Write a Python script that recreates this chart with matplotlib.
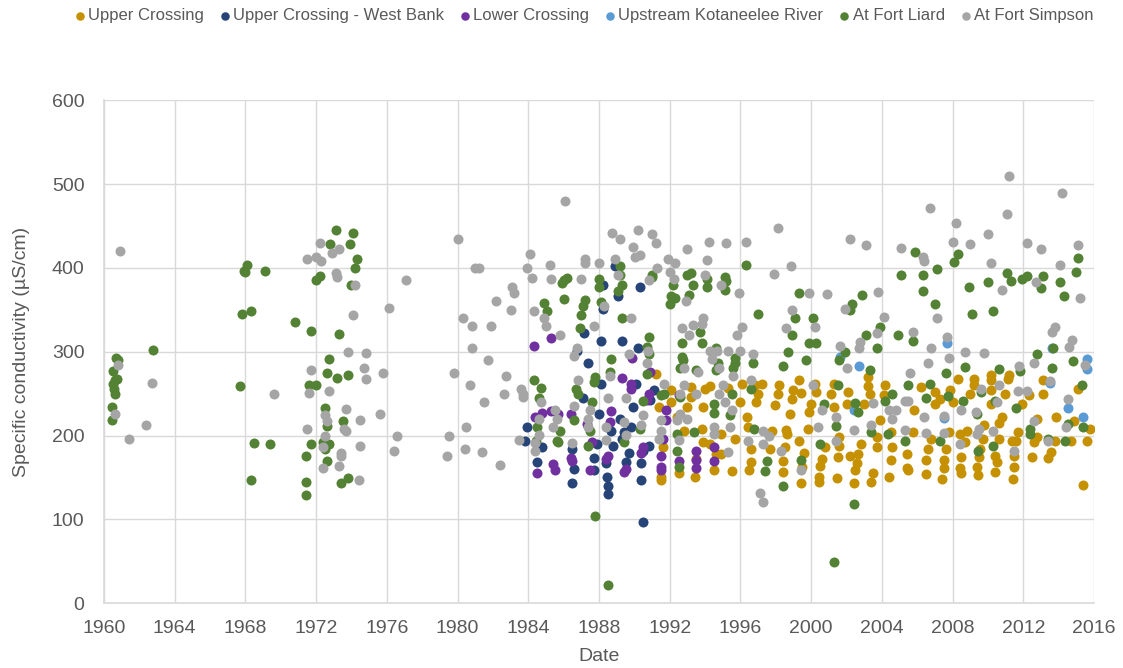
import matplotlib
matplotlib.use("Agg")
import matplotlib.pyplot as plt

# --- data: (decimal year, specific conductivity uS/cm) ----

upper_crossing = [
    (1991.2, 273), (1991.4, 234), (1991.6, 186), (1991.5, 151), (1991.5, 147),
    (1992.05, 240), (1992.1, 254), (1992.4, 222), (1992.8, 206), (1992.5, 155),
    (1993.2, 258), (1993.2, 246), (1993.0, 234), (1993.8, 208), (1993.9, 192),
    (1993.5, 172), (1993.45, 151), (1994.0, 256), (1993.9, 234), (1994.3, 259),
    (1994.3, 190), (1994.5, 159), (1994.9, 202), (1994.9, 178), (1994.6, 178),
    (1995.3, 257), (1995.7, 196), (1995.5, 158), (1996.0, 240), (1996.1, 262),
    (1996.35, 222), (1996.4, 210), (1996.6, 184), (1996.6, 169), (1996.5, 159),
    (1996.9, 240), (1997.0, 250), (1996.8, 260),
    (1997.2, 262), (1997.8, 206), (1997.7, 184), (1998.2, 260), (1998.1, 250),
    (1997.95, 236), (1998.8, 226), (1998.6, 207), (1998.65, 202), (1998.5, 186),
    (1998.4, 170), (1998.4, 156), (1999.0, 254), (1999.3, 266), (1999.4, 251),
    (1998.9, 243), (1999.8, 208), (1999.3, 194), (1999.6, 179), (1999.5, 163),
    (1999.45, 143), (2000.0, 238), (1999.9, 228), (2000.3, 252), (2000.2, 262),
    (2000.8, 186), (2000.6, 172), (2000.5, 164), (2000.45, 151), (2000.45, 145),
    (2001.3, 262), (2001.15, 250), (2001.3, 234), (2001.6, 198), (2001.6, 187),
    (2001.5, 174), (2001.45, 149), (2002.1, 252), (2002.0, 238), (2002.2, 176),
    (2002.65, 178), (2002.6, 167), (2002.5, 159), (2002.4, 143), (2002.8, 190),
    (2003.2, 270), (2003.2, 259), (2003.3, 249), (2003.0, 238), (2003.9, 218),
    (2003.7, 186), (2003.5, 155), (2003.4, 144), (2003.7, 198), (2004.2, 260),
    (2004.1, 248), (2004.5, 204), (2004.6, 186), (2004.5, 171), (2004.4, 151),
    (2005.4, 178), (2005.4, 161), (2005.5, 159), (2005.8, 230), (2005.75, 204),
    (2006.2, 258), (2007.0, 252), (2007.0, 238), (2007.3, 244), (2006.8, 196),
    (2006.6, 184), (2006.5, 171), (2006.5, 154), (2007.6, 184), (2007.5, 171),
    (2007.5, 161), (2007.4, 148), (2007.85, 254), (2008.0, 240), (2007.8, 204),
    (2008.3, 267), (2008.45, 174), (2008.4, 161), (2008.5, 155), (2008.4, 202),
    (2008.8, 206), (2008.7, 192), (2009.0, 249), (2009.2, 268), (2009.2, 260),
    (2009.7, 196), (2009.55, 184), (2009.5, 174), (2009.4, 163), (2009.45, 153),
    (2009.8, 212), (2010.2, 272), (2010.2, 266), (2010.2, 254), (2010.2, 238),
    (2010.4, 175), (2010.5, 169), (2010.4, 157), (2010.8, 222), (2010.6, 215),
    (2010.6, 196), (2010.95, 250), (2011.2, 272), (2011.15, 268), (2011.9, 238),
    (2011.7, 204), (2011.6, 194), (2011.5, 175), (2011.5, 162), (2011.4, 148),
    (2011.35, 194), (2012.3, 248), (2012.8, 220), (2012.6, 192), (2012.5, 174),
    (2012.75, 198), (2013.1, 266), (2013.1, 250), (2013.55, 180), (2013.4, 173),
    (2013.8, 194), (2013.85, 222), (2014.7, 194), (2014.85, 217), (2015.1, 256),
    (2015.6, 194), (2015.8, 208), (2015.4, 141),
]

west_bank = [
    (1987.15, 322), (1987.4, 286), (1986.75, 301), (1988.1, 313),
    (1983.9, 210), (1983.8, 193), (1984.8, 186), (1984.5, 168), (1987.1, 245),
    (1986.5, 184), (1986.6, 160), (1986.45, 143), (1987.9, 190),
    (1988.9, 402), (1988.2, 379), (1989.1, 367), (1988.2, 351), (1990.3, 377),
    (1989.3, 313), (1990.2, 305),
    (1988.0, 226), (1989.9, 234), (1989.2, 220), (1989.8, 210), (1989.4, 204),
    (1989.3, 196), (1988.8, 188), (1987.7, 173), (1987.7, 159), (1988.4, 167),
    (1988.45, 151), (1988.5, 140), (1988.5, 130), (1990.4, 167), (1989.7, 179),
    (1989.5, 169), (1990.4, 147), (1990.5, 97), (1990.5, 182), (1990.8, 188),
    (1988.1, 262), (1990.1, 262), (1991.1, 254), (1988.7, 206), (1990.9, 242),
]

lower_crossing = [
    (1984.3, 307), (1985.3, 316),
    (1984.4, 222), (1984.8, 227), (1985.3, 229), (1985.7, 226), (1986.4, 226),
    (1984.5, 155), (1985.4, 166), (1985.5, 159), (1986.4, 173), (1986.5, 170),
    (1987.5, 159), (1987.3, 214), (1987.6, 192),
    (1989.85, 292), (1990.9, 276), (1989.3, 269),
    (1989.8, 262), (1989.8, 256), (1988.7, 229), (1988.6, 216), (1988.5, 176),
    (1988.4, 172), (1989.5, 160), (1989.4, 157), (1990.5, 186), (1990.4, 179),
    (1990.8, 250), (1990.7, 242), (1991.8, 231), (1991.8, 218), (1991.5, 176),
    (1991.5, 163), (1991.5, 159), (1992.5, 248), (1992.5, 170), (1993.5, 182),
    (1993.5, 171), (1993.5, 161), (1994.5, 186), (1994.5, 170), (1991.6, 196),
]

upstream_kotaneelee = [
    (2001.65, 294), (2002.7, 283), (2002.4, 231), (2007.7, 310), (2013.6, 304),
    (2015.6, 291), (2015.6, 279), (2007.5, 221), (2013.5, 263), (2014.5, 233),
    (2015.4, 222),
]

fort_liard = [
    (1960.7, 293), (1960.8, 290), (1960.5, 277), (1960.6, 266), (1960.5, 261),
    (1960.55, 256), (1960.6, 250), (1960.45, 234), (1960.45, 219), (1960.75, 267),
    (1962.8, 302), (1968.07, 403), (1967.9, 396), (1967.95, 395), (1969.1, 396),
    (1967.8, 345), (1968.3, 348), (1967.7, 259), (1968.5, 191), (1969.4, 190),
    (1968.3, 147), (1970.8, 335), (1971.7, 325), (1973.3, 321), (1973.1, 445),
    (1974.1, 442), (1972.8, 429), (1973.9, 428), (1974.3, 410), (1974.2, 400),
    (1972.2, 390), (1972.0, 385), (1974.0, 379), (1972.7, 291), (1972.6, 275),
    (1973.2, 269), (1973.8, 272), (1971.6, 260), (1972.0, 260), (1972.5, 233),
    (1972.6, 211), (1973.5, 217), (1972.4, 192), (1972.7, 190), (1971.7, 190),
    (1971.4, 175), (1972.6, 170), (1973.8, 149), (1973.4, 143), (1971.4, 144),
    (1971.4, 129), (1972.5, 184),
    (1986.0, 385), (1986.2, 388), (1985.9, 382), (1986.0, 363), (1984.9, 358),
    (1985.05, 348), (1987.2, 362), (1987.1, 354), (1987.0, 344), (1986.9, 328),
    (1988.0, 387), (1988.0, 377), (1988.1, 359), (1984.3, 266), (1987.8, 270),
    (1984.7, 257), (1984.6, 245), (1984.5, 210), (1985.8, 205), (1985.6, 194),
    (1985.7, 192), (1986.6, 218), (1986.7, 256), (1986.8, 249), (1987.7, 264),
    (1987.6, 240), (1987.5, 205), (1987.4, 187), (1987.75, 104), (1984.45, 194),
    (1989.2, 402), (1989.2, 392), (1989.3, 380), (1989.1, 373), (1989.3, 340),
    (1991.0, 392), (1991.0, 389), (1992.2, 379), (1992.1, 366), (1992.3, 364),
    (1992.0, 357), (1993.1, 368), (1993.0, 391), (1993.2, 394), (1993.3, 380),
    (1994.1, 387), (1994.1, 377), (1995.1, 389), (1995.2, 384), (1995.1, 374),
    (1996.3, 404), (1997.0, 345), (1990.8, 317), (1990.7, 306), (1990.8, 297),
    (1988.7, 291), (1992.7, 310), (1993.8, 310), (1993.7, 324), (1992.7, 294),
    (1992.75, 290), (1992.6, 280), (1993.5, 278), (1994.6, 304), (1994.75, 286),
    (1994.6, 278), (1995.7, 292), (1995.7, 287), (1995.6, 280), (1996.7, 286),
    (1990.7, 273), (1988.6, 276),
    (1988.5, 22), (1990.5, 241), (1990.3, 208), (1989.4, 192), (1991.5, 248),
    (1991.7, 250), (1992.4, 202), (1992.4, 182), (1992.5, 162), (1992.6, 246),
    (1993.4, 204), (1994.5, 238), (1994.5, 227), (1995.5, 250), (1995.4, 224),
    (1996.75, 208), (1996.6, 256),
    (2005.9, 419), (2005.1, 391), (1999.3, 370), (2002.9, 368), (2002.3, 357),
    (2002.2, 350), (1999.1, 340), (2000.1, 340), (1998.9, 320), (2003.1, 320),
    (2003.9, 330), (2004.9, 320), (2005.75, 313), (1999.9, 310), (2000.3, 310),
    (2003.7, 304), (1998.7, 300), (2001.9, 300), (1998.4, 283), (1999.7, 290),
    (2001.6, 290), (2003.3, 278),
    (1997.5, 170), (1997.4, 158), (1998.4, 140), (1999.4, 171), (2001.5, 260),
    (2000.7, 238), (2001.4, 211), (2000.5, 190), (2002.5, 239), (2002.65, 228),
    (2003.4, 204), (2002.4, 118), (2001.3, 49), (2004.35, 202), (2004.6, 250),
    (2004.2, 241), (2005.5, 260), (2005.3, 194),
    (2015.1, 412), (2015.0, 395), (2008.3, 416), (2008.1, 407), (2007.1, 399),
    (2006.3, 392), (2006.3, 373), (2008.9, 377), (2010.0, 383), (2011.1, 394),
    (2011.3, 384), (2011.9, 387), (2012.2, 390), (2013.1, 390), (2013.0, 376),
    (2014.1, 383), (2014.3, 366), (2007.0, 357), (2009.1, 345), (2010.3, 349),
    (2013.7, 304), (2012.8, 297), (2014.8, 289), (2013.6, 281), (2008.7, 282),
    (2010.6, 279), (2011.8, 277), (2007.6, 275),
    (2006.7, 261), (2006.5, 245), (2007.75, 247), (2008.6, 241), (2009.6, 252),
    (2009.4, 226), (2007.3, 194), (2009.45, 182), (2010.3, 188), (2010.4, 241),
    (2011.6, 233), (2015.3, 260), (2014.5, 214), (2015.4, 210), (2012.4, 208),
    (2012.4, 202), (2013.4, 196), (2014.35, 194),
]

fort_simpson = [
    (1960.9, 420), (1960.8, 284), (1960.6, 226), (1961.4, 196), (1962.4, 212),
    (1962.7, 263), (1972.2, 430), (1973.3, 423), (1972.9, 418), (1971.5, 410),
    (1972.0, 413), (1972.3, 408), (1973.1, 394), (1973.2, 389), (1974.2, 380),
    (1977.1, 385), (1976.1, 352), (1974.1, 344), (1973.8, 300), (1974.8, 299),
    (1971.7, 278), (1974.7, 281), (1975.8, 275), (1974.8, 268), (1971.6, 251),
    (1972.7, 253), (1973.7, 232), (1975.6, 226), (1974.5, 218), (1971.5, 208),
    (1972.5, 224), (1972.6, 217), (1973.6, 208), (1973.7, 205), (1972.5, 200),
    (1976.6, 200), (1974.5, 187), (1976.4, 181), (1972.4, 186), (1973.4, 179),
    (1973.4, 175), (1973.3, 164), (1972.4, 161), (1974.4, 147), (1969.6, 249),
    (1986.1, 480), (1980.0, 435), (1981.0, 400), (1981.2, 400), (1984.1, 416),
    (1983.9, 400), (1985.2, 404), (1984.2, 388), (1985.3, 387), (1987.0, 387),
    (1987.2, 410), (1987.2, 406), (1988.0, 406), (1983.1, 377), (1983.2, 370),
    (1982.2, 360), (1983.0, 350), (1980.3, 340), (1980.8, 331), (1981.9, 331),
    (1984.3, 348), (1984.9, 340), (1985.0, 331), (1985.8, 320), (1987.7, 331),
    (1980.8, 305), (1981.7, 290), (1979.8, 275), (1982.75, 271), (1986.75, 305),
    (1986.6, 295), (1986.8, 266),
    (1980.7, 260), (1982.6, 250), (1981.5, 240), (1983.6, 255), (1983.7, 250),
    (1983.7, 246), (1984.7, 240), (1980.5, 210), (1979.5, 200), (1980.4, 184),
    (1981.4, 180), (1979.4, 176), (1982.4, 165), (1983.45, 195), (1984.6, 220),
    (1984.4, 191), (1984.4, 181), (1984.6, 201), (1985.5, 230), (1985.6, 220),
    (1985.4, 210), (1986.6, 235), (1986.5, 191), (1987.5, 230), (1987.4, 220),
    (1987.4, 210),
    (1988.75, 442), (1989.2, 435), (1990.2, 445), (1991.0, 440), (1991.2, 430),
    (1989.9, 425), (1990.05, 413), (1990.3, 415), (1988.9, 410), (1989.1, 392),
    (1991.9, 410), (1992.3, 406), (1992.0, 395), (1992.25, 387), (1991.3, 400),
    (1990.8, 386), (1993.0, 422), (1994.2, 431), (1995.2, 430), (1996.3, 431),
    (1994.1, 409), (1994.0, 392), (1994.9, 380), (1995.9, 370), (1992.9, 360),
    (1988.3, 355), (1989.8, 340), (1992.7, 328), (1993.3, 332), (1993.1, 320),
    (1993.9, 340), (1993.8, 333), (1995.8, 320), (1996.1, 329), (1994.3, 301),
    (1994.7, 301), (1995.3, 301), (1996.0, 301), (1996.7, 297), (1994.4, 291),
    (1994.8, 280), (1990.75, 301), (1989.7, 297), (1990.7, 286), (1992.8, 280),
    (1993.6, 276), (1995.6, 271), (1988.6, 271),
    (1988.5, 245), (1988.4, 210), (1988.4, 195), (1989.4, 216), (1989.5, 201),
    (1989.5, 245), (1990.5, 224), (1990.4, 213), (1991.7, 262), (1991.5, 218),
    (1991.5, 205), (1991.4, 196), (1992.6, 250), (1992.6, 226), (1992.4, 218),
    (1992.5, 195), (1993.0, 220), (1992.8, 260), (1993.5, 250), (1994.5, 210),
    (1994.5, 202), (1994.8, 250), (1995.0, 260), (1995.1, 240), (1995.5, 230),
    (1995.4, 210), (1995.3, 180), (1996.6, 266), (1996.4, 194),
    (1998.1, 448), (1998.85, 402), (1997.9, 393), (2002.2, 434), (2003.1, 427),
    (2005.1, 424), (1999.85, 370), (2000.9, 369), (2003.8, 371), (1998.9, 350),
    (1998.6, 328), (2000.2, 330), (2001.9, 351), (2004.1, 341), (2003.7, 322),
    (2005.75, 324), (2001.65, 307), (2002.75, 311), (2002.7, 305), (2002.05, 280),
    (2005.6, 275),
    (1997.3, 206), (1997.6, 200), (1997.3, 190), (1998.3, 181), (1999.45, 159),
    (2000.1, 260), (1997.1, 131), (1997.3, 121), (2000.6, 230), (2001.4, 222),
    (2000.4, 210), (2001.4, 194), (2002.4, 207), (2003.5, 239), (2003.4, 212),
    (2004.4, 231), (2004.6, 220), (2004.8, 231), (2005.3, 241), (2005.5, 241),
    (2005.3, 207),
    (2011.2, 510), (2014.2, 489), (2006.7, 471), (2008.2, 454), (2011.1, 464),
    (2010.0, 440), (2008.0, 431), (2009.0, 428), (2012.2, 430), (2013.0, 423),
    (2015.1, 427), (2010.2, 406), (2014.1, 404), (2006.3, 413), (2006.4, 408),
    (2012.7, 383), (2010.8, 374), (2015.2, 364), (2007.1, 340), (2013.8, 330),
    (2013.65, 324), (2014.75, 314), (2014.6, 306), (2007.7, 318), (2006.8, 304),
    (2008.7, 300), (2009.8, 298), (2007.8, 293), (2006.6, 287), (2011.75, 283),
    (2012.6, 287), (2015.5, 284),
    (2006.4, 222), (2007.5, 223), (2006.5, 203), (2007.5, 203), (2008.5, 231),
    (2009.3, 228), (2009.6, 255), (2010.6, 260), (2010.5, 240), (2009.5, 208),
    (2009.4, 202), (2010.3, 206), (2008.4, 190), (2011.5, 182), (2011.7, 253),
    (2012.2, 253), (2012.6, 217), (2013.5, 265), (2014.5, 243), (2014.4, 210),
    (2013.4, 194),
]

series_names = ["Upper Crossing", "Upper Crossing - West Bank", "Lower Crossing",
                "Upstream Kotaneelee River", "At Fort Liard", "At Fort Simpson"]
series_data = [upper_crossing, west_bank, lower_crossing,
               upstream_kotaneelee, fort_liard, fort_simpson]
series_colors = ["#C59100", "#264478", "#7030A0", "#5B9BD5", "#548235", "#A5A5A5"]

x_ticks = list(range(1960, 2017, 4))
y_ticks = list(range(0, 601, 100))

# -----------------------------------------------------------------------------

plt.rcParams['font.family'] = ['Liberation Sans', 'DejaVu Sans']
text_color = '#595959'
grid_color = '#D9D9D9'

fig = plt.figure(figsize=(11.23, 6.68), dpi=100)
ax = fig.add_axes([0.0926, 0.097, 0.8816, 0.753])

for name, data, color in zip(series_names, series_data, series_colors):
    xs = [p[0] for p in data]
    ys = [p[1] for p in data]
    ax.scatter(xs, ys, s=52, color=color, label=name, linewidths=0, zorder=3)

ax.set_xlim(1960, 2016)
ax.set_ylim(0, 600)
ax.set_xticks(x_ticks)
ax.set_yticks(y_ticks)
ax.grid(True, color=grid_color, linewidth=1, zorder=0)
ax.set_axisbelow(True)
for side in ['top', 'right']:
    ax.spines[side].set_visible(False)
for side in ['left', 'bottom']:
    ax.spines[side].set_color(grid_color)
    ax.spines[side].set_linewidth(1.2)
ax.tick_params(length=0, labelsize=14, labelcolor=text_color)
ax.tick_params(axis='y', pad=14)
ax.tick_params(axis='x', pad=12)

ax.set_xlabel('Date', fontsize=14, color=text_color, labelpad=8)
ax.set_ylabel('Specific conductivity (µS/cm)', fontsize=14, color=text_color, labelpad=16)

fig.legend(loc='upper center', bbox_to_anchor=(0.519, 1.01), ncol=6, frameon=False,
           fontsize=12, labelcolor=text_color, markerscale=0.85,
           handletextpad=0.05, columnspacing=0.8, handlelength=0.9)

fig.savefig('out.png', dpi=100)
